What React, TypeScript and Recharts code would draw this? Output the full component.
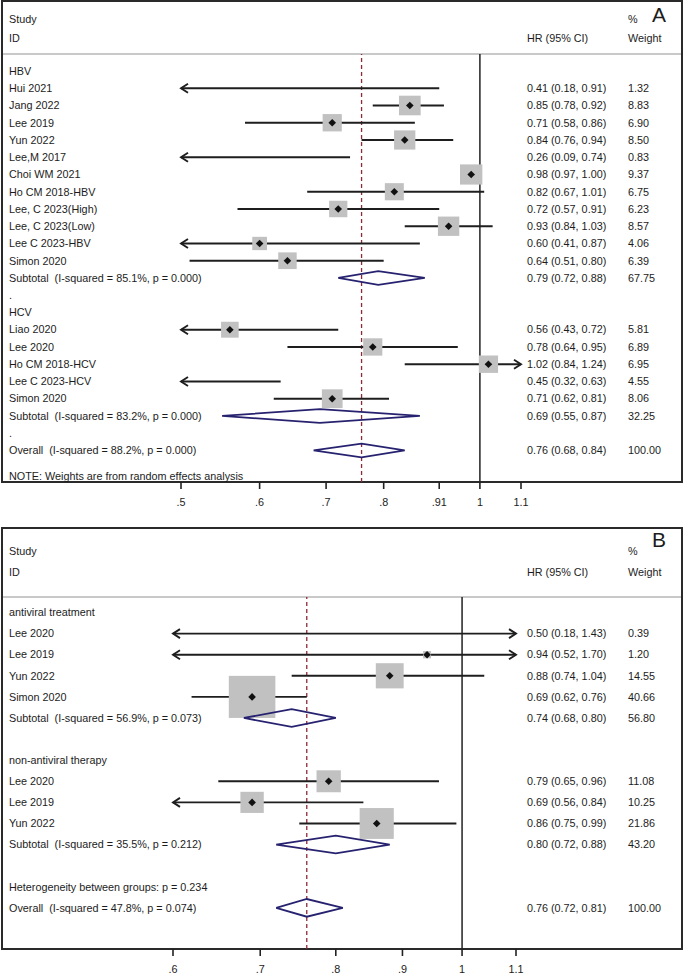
import React from 'react';
import { ComposedChart, Scatter, XAxis, YAxis, ReferenceLine } from 'recharts';

// ---------- Panel A data ----------
const labelsA = [
  'HBV', 'Hui 2021', 'Jang 2022', 'Lee 2019', 'Yun 2022', 'Lee,M 2017', 'Choi WM 2021',
  'Ho CM 2018-HBV', 'Lee, C 2023(High)', 'Lee, C 2023(Low)', 'Lee C 2023-HBV', 'Simon 2020',
  'Subtotal  (I-squared = 85.1%, p = 0.000)', '.', 'HCV', 'Liao 2020', 'Lee 2020',
  'Ho CM 2018-HCV', 'Lee C 2023-HCV', 'Simon 2020', 'Subtotal  (I-squared = 83.2%, p = 0.000)',
  '.', 'Overall  (I-squared = 88.2%, p = 0.000)',
];
const kindsA = [
  'group', 'study', 'study', 'study', 'study', 'study', 'study', 'study', 'study', 'study', 'study', 'study',
  'sub', 'blank', 'group', 'study', 'study', 'study', 'study', 'study', 'sub', 'blank', 'overall',
];
const hrA = [null, 0.41, 0.85, 0.71, 0.84, 0.26, 0.98, 0.82, 0.72, 0.93, 0.60, 0.64, 0.79, null, null, 0.56, 0.78, 1.02, 0.45, 0.71, 0.69, null, 0.76];
const loA = [null, 0.18, 0.78, 0.58, 0.76, 0.09, 0.97, 0.67, 0.57, 0.84, 0.41, 0.51, 0.72, null, null, 0.43, 0.64, 0.84, 0.32, 0.62, 0.55, null, 0.68];
const hiA = [null, 0.91, 0.92, 0.86, 0.94, 0.74, 1.00, 1.01, 0.91, 1.03, 0.87, 0.80, 0.88, null, null, 0.72, 0.95, 1.24, 0.63, 0.81, 0.87, null, 0.84];
const weightA = [null, 1.32, 8.83, 6.90, 8.50, 0.83, 9.37, 6.75, 6.23, 8.57, 4.06, 6.39, 67.75, null, null, 5.81, 6.89, 6.95, 4.55, 8.06, 32.25, null, 100.0];
const ticksA = [0.5, 0.6, 0.7, 0.8, 0.91, 1, 1.1];
const tickLabelsA = ['.5', '.6', '.7', '.8', '.91', '1', '1.1'];
const noteA = 'NOTE: Weights are from random effects analysis';

// ---------- Panel B data ----------
const labelsB = [
  'antiviral treatment', 'Lee 2020', 'Lee 2019', 'Yun 2022', 'Simon 2020',
  'Subtotal  (I-squared = 56.9%, p = 0.073)', '', 'non-antiviral therapy', 'Lee 2020', 'Lee 2019',
  'Yun 2022', 'Subtotal  (I-squared = 35.5%, p = 0.212)', '', 'Heterogeneity between groups: p = 0.234',
  'Overall  (I-squared = 47.8%, p = 0.074)',
];
const kindsB = ['group', 'study', 'study', 'study', 'study', 'sub', 'blank', 'group', 'study', 'study', 'study', 'sub', 'blank', 'group', 'overall'];
const hrB = [null, 0.50, 0.94, 0.88, 0.69, 0.74, null, null, 0.79, 0.69, 0.86, 0.80, null, null, 0.76];
const loB = [null, 0.18, 0.52, 0.74, 0.62, 0.68, null, null, 0.65, 0.56, 0.75, 0.72, null, null, 0.72];
const hiB = [null, 1.43, 1.70, 1.04, 0.76, 0.80, null, null, 0.96, 0.84, 0.99, 0.88, null, null, 0.81];
const weightB = [null, 0.39, 1.20, 14.55, 40.66, 56.80, null, null, 11.08, 10.25, 21.86, 43.20, null, null, 100.0];
const ticksB = [0.6, 0.7, 0.8, 0.9, 1, 1.1];
const tickLabelsB = ['.6', '.7', '.8', '.9', '1', '1.1'];

const FONT = '"Liberation Sans", Arial, sans-serif';
const FS = 10.8;
const TXT = '#1c1c1c';

type Layout = {
  top: number; height: number; plotLeft: number; plotRight: number; plotTop: number;
  axisH: number; rowDomain: [number, number]; diamondH: number;
};

const CiShape = (p: any) => {
  const { x1, y1, x2, y2, arrowL, arrowR } = p;
  const a = 7, h = 4.5;
  return (
    <g stroke="#1e1e1e" strokeWidth={1.9} fill="none">
      <line x1={x1} y1={y1} x2={x2} y2={y2} />
      {arrowL && <polyline points={`${x1 + a},${y1 - h} ${x1},${y1} ${x1 + a},${y1 + h}`} />}
      {arrowR && <polyline points={`${x2 - a},${y2 - h} ${x2},${y2} ${x2 - a},${y2 + h}`} />}
    </g>
  );
};

const BoxShape = (p: any) => {
  const { cx, cy, payload } = p;
  const s = Math.sqrt(payload.w);
  const bw = 7.3 * s, bh = 6.6 * s;
  return <rect x={cx - bw / 2} y={cy - bh / 2} width={bw} height={bh} fill="#c1c1c1" />;
};

const DotShape = (p: any) => {
  const { cx, cy } = p;
  const d = 3.8;
  return <path d={`M${cx - d},${cy} L${cx},${cy - d} L${cx + d},${cy} L${cx},${cy + d} Z`} fill="#111" />;
};

const Empty = () => <g />;

function Forest(props: {
  labels: string[]; kinds: string[]; hr: (number | null)[]; lo: (number | null)[]; hi: (number | null)[];
  weight: (number | null)[]; ticks: number[]; tickLabels: string[]; note?: string; layout: Layout;
}) {
  const { labels, kinds, hr, lo, hi, weight, ticks, tickLabels, note, layout } = props;
  const min = ticks[0], max = ticks[ticks.length - 1];
  const rows = labels.map((label, i) => ({
    i, label, kind: kinds[i], hr: hr[i], lo: lo[i], hi: hi[i], w: weight[i],
  }));
  const noteRow = rows.length + 0.5;
  const yTicks = rows.map((r) => r.i).concat(note ? [noteRow] : []);
  const overall = rows.find((r) => r.kind === 'overall');
  const clamp = (v: number) => Math.min(max, Math.max(min, v));
  const studies = rows.filter((r) => r.kind === 'study');
  const boxes = studies
    .filter((r) => (r.hr as number) >= min && (r.hr as number) <= max)
    .map((r) => ({ x: r.hr, y: r.i, w: r.w }));
  const diamonds = rows.filter((r) => r.kind === 'sub' || r.kind === 'overall');

  const renderTick = (tp: any) => {
    const { y, payload } = tp;
    const v = payload.value;
    const common = { y, dy: '0.35em', fontSize: FS, fontFamily: FONT, fill: TXT, style: { whiteSpace: 'pre' } } as any;
    if (note && Math.abs(v - noteRow) < 0.01) {
      return <text x={9} {...common}>{note}</text>;
    }
    const r = rows[Math.round(v)];
    if (!r) return <g />;
    const hasVal = r.hr != null;
    return (
      <g>
        <text x={9} {...common}>{r.label}</text>
        {hasVal && (
          <text x={527} {...common}>
            {`${(r.hr as number).toFixed(2)} (${(r.lo as number).toFixed(2)}, ${(r.hi as number).toFixed(2)})`}
          </text>
        )}
        {hasVal && <text x={628} {...common}>{(r.w as number).toFixed(2)}</text>}
      </g>
    );
  };

  return (
    <div style={{ position: 'absolute', left: 0, top: layout.top }}>
      <ComposedChart
        width={685}
        height={layout.height}
        margin={{ top: layout.plotTop, right: 685 - layout.plotRight, bottom: 0, left: 0 }}
      >
        <XAxis
          type="number"
          dataKey="x"
          scale="log"
          domain={[min, max]}
          allowDataOverflow
          ticks={ticks}
          interval={0}
          height={layout.axisH}
          axisLine={false}
          tickSize={7}
          tickMargin={9}
          tickLine={{ stroke: '#222', strokeWidth: 1.6 }}
          tickFormatter={(v: number) => tickLabels[ticks.indexOf(v)] ?? String(v)}
          tick={{ fontSize: FS, fontFamily: FONT, fill: TXT }}
        />
        <YAxis
          type="number"
          dataKey="y"
          domain={layout.rowDomain}
          allowDataOverflow
          reversed
          width={layout.plotLeft}
          ticks={yTicks}
          interval={0}
          axisLine={false}
          tickLine={false}
          tick={renderTick}
        />
        <ReferenceLine x={1} stroke="#222" strokeWidth={1.5} ifOverflow="visible" />
        {overall && (
          <ReferenceLine x={overall.hr as number} stroke="#8c2a35" strokeWidth={1.3} strokeDasharray="4 3" ifOverflow="visible" />
        )}
        <Scatter data={boxes} shape={BoxShape} isAnimationActive={false} />
        {studies.map((r) => (
          <ReferenceLine
            key={`ci${r.i}`}
            segment={[
              { x: clamp(r.lo as number), y: r.i },
              { x: clamp(r.hi as number), y: r.i },
            ]}
            ifOverflow="visible"
            shape={(p: any) => <CiShape {...p} arrowL={(r.lo as number) < min} arrowR={(r.hi as number) > max} />}
          />
        ))}
        <Scatter data={boxes} shape={DotShape} isAnimationActive={false} />
        {diamonds.map((r) => (
          <Scatter
            key={`dm${r.i}`}
            data={[
              { x: r.lo, y: r.i },
              { x: r.hr, y: r.i - layout.diamondH },
              { x: r.hi, y: r.i },
              { x: r.hr, y: r.i + layout.diamondH },
              { x: r.lo, y: r.i },
            ]}
            line={{ stroke: '#27226f', strokeWidth: 1.8 }}
            shape={Empty}
            isAnimationActive={false}
          />
        ))}
      </ComposedChart>
    </div>
  );
}

const layoutA: Layout = {
  top: 0, height: 520, plotLeft: 181, plotRight: 521, plotTop: 54, axisH: 38,
  rowDomain: [-0.986, 23.83], diamondH: 0.4,
};
const layoutB: Layout = {
  top: 528, height: 447, plotLeft: 173, plotRight: 516, plotTop: 69, axisH: 26,
  rowDomain: [-0.735, 15.95], diamondH: 0.42,
};

function Header(props: { yStudy: number; yId: number; letter: string; yLetter: number }) {
  const { yStudy, yId, letter, yLetter } = props;
  const t = { fontSize: FS, fontFamily: FONT, fill: TXT, dy: '0.35em' } as any;
  return (
    <g>
      <text x={9} y={yStudy} {...t}>Study</text>
      <text x={9} y={yId} {...t}>ID</text>
      <text x={527} y={yId} {...t}>HR (95% CI)</text>
      <text x={628} y={yStudy} {...t}>%</text>
      <text x={628} y={yId} {...t}>Weight</text>
      <text x={652} y={yLetter} fontSize={21} fontFamily={FONT} fill={TXT} dy="0.35em">{letter}</text>
    </g>
  );
}

export default function App() {
  return (
    <div style={{ position: 'absolute', left: 0, top: 0, width: 685, height: 975, background: '#fff' }}>
      <svg width={685} height={975} style={{ position: 'absolute', left: 0, top: 0 }}>
        <rect x={2} y={1} width={680} height={481} fill="none" stroke="#2a2a2a" strokeWidth={2} />
        <line x1={3} x2={681} y1={54} y2={54} stroke="#c9c9c9" strokeWidth={2} />
        <Header yStudy={19} yId={38} letter="A" yLetter={15} />
        <rect x={2} y={528} width={680} height={421} fill="none" stroke="#2a2a2a" strokeWidth={2} />
        <line x1={3} x2={681} y1={597} y2={597} stroke="#c9c9c9" strokeWidth={2} />
        <Header yStudy={551} yId={572} letter="B" yLetter={540} />
      </svg>
      <Forest labels={labelsA} kinds={kindsA} hr={hrA} lo={loA} hi={hiA} weight={weightA}
        ticks={ticksA} tickLabels={tickLabelsA} note={noteA} layout={layoutA} />
      <Forest labels={labelsB} kinds={kindsB} hr={hrB} lo={loB} hi={hiB} weight={weightB}
        ticks={ticksB} tickLabels={tickLabelsB} layout={layoutB} />
    </div>
  );
}
